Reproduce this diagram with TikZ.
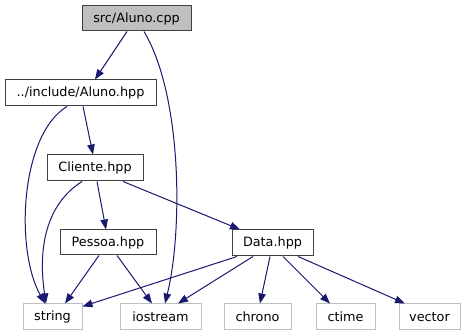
\documentclass[tikz,border=0pt]{standalone}
\usepackage{fontspec}
\setmainfont{DejaVu Sans}
\usetikzlibrary{arrows.meta}
\definecolor{edgeblue}{HTML}{191970}
\definecolor{sysgray}{HTML}{BFBFBF}
\definecolor{boxline}{HTML}{404040}
\tikzset{
  file/.style={draw=boxline, line width=1pt, fill=white, inner sep=0pt,
    minimum height=25pt, font=\fontsize{12.8}{15}\selectfont},
  mainfile/.style={file, fill=sysgray},
  sysfile/.style={file, draw=sysgray, minimum height=26pt},
  dep/.style={draw=edgeblue, line width=1pt,
    -{Triangle[length=10pt,width=7.5pt]}, color=edgeblue},
}
\begin{document}
\begin{tikzpicture}[x=1pt, y=-1pt]
\useasboundingbox (0,0) rectangle (467,336);

% files of the project
\node[mainfile, minimum width=109pt] (cpp) at (136.5,18.5) {src/Aluno.cpp};
\node[file, minimum width=151pt, minimum height=26pt] (hpp) at (80.5,93) {../include/Aluno.hpp};
\node[file, minimum width=96pt, minimum height=26pt] (cli) at (95,168) {Cliente.hpp};
\node[file, minimum width=96pt] (pes) at (108,242.5) {Pessoa.hpp};
\node[file, minimum width=81pt, minimum height=26pt] (dat) at (272.5,243) {Data.hpp};

% standard library headers
\node[sysfile, minimum width=59pt] (str) at (52.5,317) {string};
\node[sysfile, minimum width=81pt] (ios) at (160.5,317) {iostream};
\node[sysfile, minimum width=67pt] (chr) at (257.5,317) {chrono};
\node[sysfile, minimum width=59pt] (ctm) at (345.5,317) {ctime};
\node[sysfile, minimum width=61pt] (vec) at (429.5,317) {vector};

% include relations
\draw[dep] ([xshift=-9.5pt]cpp.south) -- ([xshift=14.5pt]hpp.north);
\draw[dep] ([xshift=7.5pt]cpp.south) .. controls (182,95) and (183,230) .. ([xshift=4.5pt]ios.north);
\draw[dep] ([xshift=2.5pt]hpp.south) -- ([xshift=-2pt]cli.north);
\draw[dep] ([xshift=-13.5pt]hpp.south) .. controls (20,135) and (15,250) .. ([xshift=-7.5pt]str.north);
\draw[dep] ([xshift=2pt]cli.south) -- ([xshift=-2pt]pes.north);
\draw[dep] ([xshift=-13pt]cli.south) .. controls (45,205) and (38,250) .. ([xshift=-6.5pt]str.north);
\draw[dep] ([xshift=28pt]cli.south) -- ([xshift=-32.5pt]dat.north);
\draw[dep] ([xshift=-9pt]pes.south) -- ([xshift=12.5pt]str.north);
\draw[dep] ([xshift=9pt]pes.south) -- ([xshift=-8.5pt]ios.north);
\draw[dep] ([xshift=-35.5pt]dat.south) -- ([yshift=-3pt]str.north east);
\draw[dep] ([xshift=-19.5pt]dat.south) -- ([xshift=17.5pt]ios.north);
\draw[dep] ([xshift=-2.5pt]dat.south) -- ([xshift=2.5pt]chr.north);
\draw[dep] ([xshift=10.5pt]dat.south) -- ([xshift=-15.5pt]ctm.north);
\draw[dep] ([xshift=25.5pt]dat.south) -- ([xshift=-24.5pt]vec.north);
\end{tikzpicture}
\end{document}
